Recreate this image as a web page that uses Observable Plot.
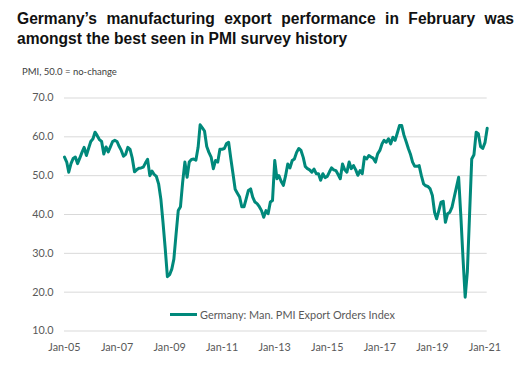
<!DOCTYPE html>
<html><head><meta charset="utf-8">
<script src="https://cdn.jsdelivr.net/npm/d3@7"></script>
<script src="https://cdn.jsdelivr.net/npm/@observablehq/plot@0.6"></script>
<style>
body{margin:0;background:#fff;}
#wrap{position:relative;width:529px;height:371px;overflow:hidden;background:#fff;}
#title{position:absolute;left:17px;top:9px;width:497px;font-family:"Liberation Sans",Arial,sans-serif;font-weight:bold;font-size:15.6px;line-height:20px;text-align:justify;color:#111;}
#sub{position:absolute;left:22px;top:66px;font-family:Lato,sans-serif;font-size:9.5px;color:#404040;}
#chart{position:absolute;left:0;top:80px;}
#legend{position:absolute;left:170px;top:307px;height:14px;font-family:Lato,sans-serif;font-size:10.9px;color:#595959;display:flex;align-items:center;white-space:nowrap;}
#legend .sw{display:inline-block;width:27px;height:3px;background:#00897b;margin-right:3px;}
</style></head>
<body>
<div id="wrap">
  <div id="title"></div>
  <div id="sub"></div>
  <div id="chart"></div>
  <div id="legend"><span class="sw"></span><span id="legtext"></span></div>
</div>
<script>
const titleText = "Germany\u2019s manufacturing export performance in February was amongst the best seen in PMI survey history";
const subtitleText = "PMI, 50.0 = no-change";
const seriesName = "Germany: Man. PMI Export Orders Index";
const firstMonth = "2005-01-01";
const xTickYears = [2005, 2007, 2009, 2011, 2013, 2015, 2017, 2019, 2021];
const yTicks = [10, 20, 30, 40, 50, 60, 70];

// Monthly values, Jan 2005 .. Feb 2021
const v2005 = [54.8, 53.5, 50.9, 53.1, 54.4, 54.8, 53.1, 54.5, 56.0, 57.3, 55.2, 57.0];
const v2006 = [58.8, 59.5, 61.2, 60.3, 59.3, 58.8, 55.6, 57.4, 56.1, 57.4, 58.8, 59.1];
const v2007 = [58.8, 57.5, 56.5, 55.0, 55.5, 57.3, 56.8, 54.5, 51.0, 51.5, 51.9, 52.0];
const v2008 = [52.2, 53.3, 54.2, 50.0, 51.2, 50.3, 49.8, 47.9, 44.0, 38.0, 31.2, 24.0];
const v2009 = [24.5, 26.0, 28.5, 35.0, 41.0, 42.0, 48.3, 53.5, 49.6, 53.5, 54.2, 54.3];
const v2010 = [54.0, 57.3, 63.1, 62.3, 61.5, 57.5, 56.0, 54.8, 51.8, 53.9, 53.5, 56.8];
const v2011 = [56.8, 57.0, 58.2, 58.6, 54.5, 50.5, 46.5, 45.5, 44.5, 42.0, 42.0, 44.0];
const v2012 = [46.2, 46.6, 44.5, 43.2, 42.8, 42.0, 41.0, 39.3, 41.0, 40.2, 43.2, 43.6];
const v2013 = [53.9, 49.2, 50.0, 48.5, 47.5, 50.0, 53.0, 52.0, 53.9, 54.3, 56.0, 57.0];
const v2014 = [56.5, 54.7, 52.4, 51.8, 51.5, 50.9, 51.7, 50.5, 50.5, 48.8, 50.5, 49.5];
const v2015 = [49.8, 51.0, 52.0, 51.5, 51.3, 50.3, 49.2, 53.0, 51.5, 50.9, 53.5, 51.8];
const v2016 = [52.6, 51.5, 50.1, 51.3, 50.5, 54.8, 54.3, 55.2, 54.8, 54.5, 53.5, 55.6];
const v2017 = [56.5, 58.2, 59.1, 58.6, 59.5, 58.2, 59.9, 59.1, 61.0, 62.9, 62.9, 60.5];
const v2018 = [58.8, 57.0, 55.6, 53.5, 52.4, 52.4, 52.6, 50.0, 47.9, 47.4, 47.2, 46.6];
const v2019 = [44.9, 40.5, 38.9, 41.0, 43.2, 43.4, 38.0, 40.2, 40.6, 41.9, 44.5, 47.0];
const v2020 = [49.6, 39.5, 29.0, 18.7, 25.2, 40.0, 54.3, 55.4, 61.2, 60.8, 57.5, 57.0];
const v2021 = [58.5, 62.2];

const values = [].concat(v2005, v2006, v2007, v2008, v2009, v2010, v2011, v2012,
  v2013, v2014, v2015, v2016, v2017, v2018, v2019, v2020, v2021);

const start = new Date(firstMonth + "T00:00:00Z");
const data = values.map((v, i) => ({date: d3.utcMonth.offset(start, i), value: v}));
const end = data[data.length - 1].date;
const xTicks = xTickYears.map(y => new Date(Date.UTC(y, 0, 1)));

document.getElementById("title").textContent = titleText;
document.getElementById("sub").textContent = subtitleText;
document.getElementById("legtext").textContent = seriesName;

const chart = Plot.plot({
  width: 529,
  height: 291,
  marginTop: 17.5,
  marginBottom: 40.5,
  marginLeft: 64,
  marginRight: 42.3,
  style: {fontFamily: "Lato, sans-serif", fontSize: "10.8px", color: "#595959", background: "transparent"},
  x: {type: "utc", domain: [start, end]},
  y: {domain: [10, 70]},
  marks: [
    Plot.gridY(yTicks, {stroke: "#d9d9d9", strokeOpacity: 1, strokeWidth: 1}),
    Plot.axisY(yTicks, {tickSize: 0, tickPadding: 11, tickFormat: d3.format(".1f"), label: null, fill: "#595959"}),
    Plot.axisX(xTicks, {tickSize: 0, tickPadding: 12, tickFormat: d3.utcFormat("%b-%y"), label: null, fill: "#595959"}),
    Plot.lineY(data, {x: "date", y: "value", stroke: "#00897b", strokeWidth: 3, strokeLinejoin: "round", strokeLinecap: "round"})
  ]
});
document.getElementById("chart").appendChild(chart);
</script>
</body></html>
